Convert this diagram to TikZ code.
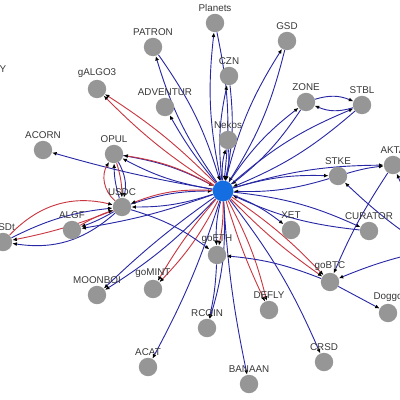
\documentclass[tikz,border=0pt]{standalone}
\usepackage{fontspec}
\setmainfont{Liberation Sans}
\usetikzlibrary{arrows.meta,backgrounds}
\definecolor{edgeblue}{RGB}{40,40,165}
\definecolor{edgered}{RGB}{200,55,65}
\definecolor{tokengrey}{RGB}{150,150,150}
\definecolor{algoblue}{RGB}{20,110,225}
\definecolor{labelgrey}{RGB}{55,55,55}

\begin{document}
\begin{tikzpicture}[x=0.025cm, y=-0.025cm,
    token/.style={circle, fill=tokengrey, minimum size=0.46cm, inner sep=0pt},
    hub/.style={token, fill=algoblue, minimum size=0.52cm},
    every label/.style={font=\fontsize{7}{8}\selectfont, text=labelgrey, inner sep=1pt},
    tag/.style={font=\fontsize{7}{8}\selectfont, text=labelgrey, inner sep=1pt},
    flow/.style={draw=edgeblue, line width=0.65pt, -{Latex[length=3.2pt,width=2.8pt,color=black]}},
    redflow/.style={flow, draw=edgered}
]
    \useasboundingbox (0,0) rectangle (400,400);

    % tokens
    \node[hub] (algo) at (223,191) {};
    \node[token, label=above:Planets] (planets) at (215,23) {};
    \node[token, label=above:PATRON] (patron) at (153,47) {};
    \node[token, label=above:GSD] (gsd) at (287,41) {};
    \node[token, label=above:CZN] (czn) at (229,76) {};
    \node[token, label=above:gALGO3] (galgo) at (97,89) {};
    \node[token, label=above:ADVENTUR] (adventur) at (165,107) {};
    \node[token, label=above:ZONE] (zone) at (306,102) {};
    \node[token, label=above:STBL] (stbl) at (362,105) {};
    \node[token, label=above:Nekos] (nekos) at (228,140) {};
    \node[token, label=above:ACORN] (acorn) at (43,150) {};
    \node[token, label=above:OPUL] (opul) at (114,154) {};
    \node[token, label=above:STKE] (stke) at (338,176) {};
    \node[token, label=above:AKTA] (akta) at (393,165) {};
    \node[token, label=above:USDC] (usdc) at (122,207) {};
    \node[token, label=above:ALGF] (algf) at (72,230) {};
    \node[token, label=above:USDt] (usdt) at (3,242) {};
    \node[token, label=above:CURATOR] (curator) at (369,231) {};
    \node[token, label=above:XET] (xet) at (291,230) {};
    \node[token, label=above:goETH] (goeth) at (217,255) {};
    \node[token, label=above:goBTC] (gobtc) at (330,282) {};
    \node[token, label=above:MOONBOI] (moonboi) at (97,295) {};
    \node[token, label=above:goMINT] (gomint) at (153,289) {};
    \node[token, label=above:DEFLY] (defly) at (269,310) {};
    \node[token, label=above:Doggo] (doggo) at (388,313) {};
    \node[token, label=above:RCOIN] (rcoin) at (207,328) {};
    \node[token, label=above:ACAT] (acat) at (148,367) {};
    \node[token, label=above:BANAAN] (banaan) at (249,384) {};
    \node[token, label=above:CRSD] (crsd) at (324,362) {};
    \node[tag] (offleft) at (3,69) {Y};
    \coordinate (eastend) at (430,250);

    % transfers
    \begin{scope}[on background layer]
        \foreach \t in {planets,patron,gsd,czn,zone,stbl,nekos,stke,curator,opul,usdc}{
            \draw[flow] (algo) to[bend left=9] (\t);
            \draw[flow] (\t) to[bend left=9] (algo);
        }
        \foreach \t/\b in {adventur/5, acorn/3, xet/8, acat/5, banaan/-4, crsd/7, rcoin/10,
                           goeth/-8, moonboi/7, moonboi/-4, akta/8, algf/5}
            \draw[flow] (algo) to[bend left=\b] (\t);
        \foreach \t/\b in {galgo/6, galgo/-6, gomint/8, gomint/-5, defly/7, defly/-4,
                           gobtc/6, gobtc/-5, goeth/6, usdc/-12, opul/-10}
            \draw[redflow] (algo) to[bend left=\b] (\t);

        \draw[flow] (zone) to[bend left=20] (stbl);
        \draw[flow] (stbl) to[bend left=20] (zone);
        \draw[flow] (stke) to[bend left=5] (akta);
        \draw[flow] (akta) to[bend right=5] (gobtc);
        \draw[flow] (gobtc) to (doggo);
        \draw[flow] (gobtc) to[bend right=8] (goeth);
        \draw[flow] (goeth) to[bend left=5] (rcoin);
        \draw[flow] (usdc) to[bend left=10] (goeth);
        \draw[flow] (eastend) to[bend left=5] (stke);
        \draw[flow] (eastend) to[bend right=5] (gobtc);
        \draw[flow] (eastend) to (akta);

        \draw[redflow] (usdt) to[bend left=30] (usdc);
        \draw[flow] (usdt) to[bend left=10] (usdc);
        \draw[flow] (usdc) to[bend left=25] (usdt);
        \draw[redflow] (usdc) to[bend left=5] (usdt);
        \draw[redflow] (algf) to[bend left=5] (usdc);
        \draw[flow] (usdc) to[bend left=5] (algf);
        \draw[redflow] (usdc) to[bend left=40] (opul);
        \draw[flow] (usdc) to[bend left=8] (opul);
        \draw[flow] (opul) to[bend left=20] (usdc);
        \draw[redflow] (opul) to[bend left=8] (usdc);
    \end{scope}
\end{tikzpicture}
\end{document}
